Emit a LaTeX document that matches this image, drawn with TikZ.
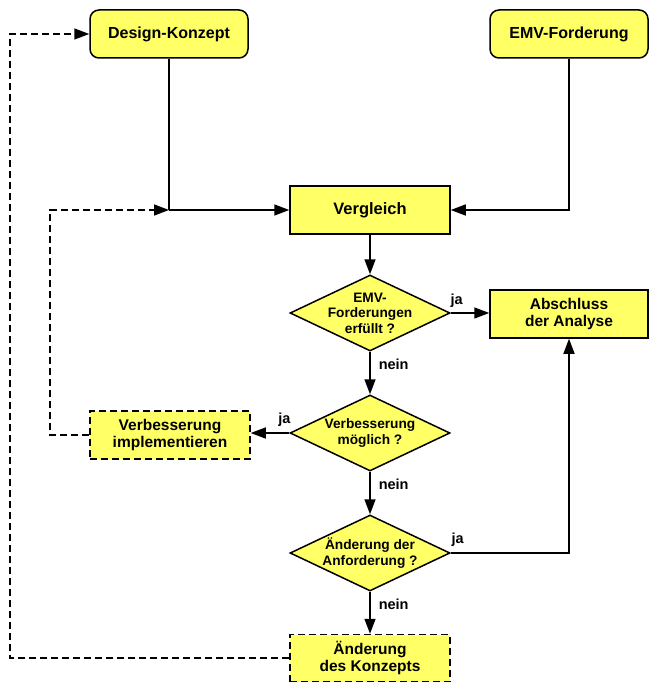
\documentclass[tikz,border=0pt]{standalone}
\usepackage{fontspec}
\setmainfont{Liberation Sans}
\usetikzlibrary{shapes.geometric,arrows.meta}
\definecolor{boxyellow}{HTML}{FFFF66}
\begin{document}
\begin{tikzpicture}[x=1pt,y=-1pt,
  every node/.style={font=\bfseries},
  base/.style={draw=black,line width=1.5pt,fill=boxyellow,align=center,inner sep=0pt},
  roundbox/.style={base,rounded corners=9pt,minimum width=158pt,minimum height=48pt,font=\bfseries\fontsize{16}{19}\selectfont},
  rectbox/.style={base,minimum width=160pt,minimum height=48pt,font=\bfseries\fontsize{15.5}{17}\selectfont},
  dashbox/.style={rectbox,dash pattern=on 7pt off 4pt},
  decision/.style={base,diamond,aspect=2.1,minimum width=160pt,minimum height=76pt},
  dtext/.style={align=center,inner sep=0pt,font=\bfseries\fontsize{13.7}{15.5}\selectfont},
  conn/.style={line width=1.5pt,-{Triangle[length=15pt,width=11pt]}},
  plain/.style={line width=1.5pt},
  dconn/.style={line width=1.5pt,dash pattern=on 7pt off 4pt,-{Triangle[length=15pt,width=11pt]}},
  lab/.style={font=\bfseries\fontsize{14.5}{16}\selectfont,inner sep=0pt}
]
\useasboundingbox (0,0) rectangle (659,692);

\node[roundbox] (design) at (169,34) {Design-Konzept};
\node[roundbox] (emv) at (569,34) {EMV-Forderung};
\node[rectbox,font=\bfseries\fontsize{16.5}{19}\selectfont] (vergl) at (370,210) {Vergleich};
\node[decision,label={[dtext]center:{EMV-\\Forderungen\\erfüllt ?}}] (d1) at (370,313) {};
\node[rectbox,minimum width=158pt] (abschl) at (569,314) {Abschluss\\der Analyse};
\node[decision,label={[dtext]center:{Verbesserung\\möglich ?}}] (d2) at (370,433) {};
\node[dashbox] (impl) at (170,435) {Verbesserung\\implementieren};
\node[decision,label={[dtext]center:{Änderung der\\Anforderung ?}}] (d3) at (370,553) {};
\node[dashbox,minimum height=47pt] (konz) at (370,658) {Änderung\\des Konzepts};

\coordinate (join) at (design.south |- vergl.west);
\coordinate (loopA) at (50,0);
\coordinate (loopB) at (10,0);
\coordinate (jaTurn) at (abschl.south |- d3.east);

\draw[plain] (design.south) -- (join);
\draw[conn] (join) -- (vergl.west);
\draw[conn] (emv.south) |- (vergl.east);
\draw[conn] (vergl.south) -- (d1.north);
\draw[conn] (d1.east) -- (abschl.west |- d1.east) node[lab,pos=0,anchor=south west,xshift=-1pt,yshift=5pt] {ja};
\draw[conn] (d1.south) -- (d2.north) node[lab,pos=0.3,anchor=west,xshift=8pt] {nein};
\draw[conn] (d2.west) -- (impl.east |- d2.west) node[lab,pos=0,anchor=south east,xshift=2pt,yshift=6pt] {ja};
\draw[conn] (d2.south) -- (d3.north) node[lab,pos=0.3,anchor=west,xshift=8pt] {nein};
\draw[conn] (d3.east) -- (jaTurn) node[lab,pos=0,anchor=south west,xshift=0pt,yshift=6pt] {ja} -- (abschl.south);
\draw[conn] (d3.south) -- (konz.north) node[lab,pos=0.3,anchor=west,xshift=8pt] {nein};
\draw[dconn] (impl.west) -| (loopA |- join) -- (join);
\draw[dconn] (konz.west) -| (loopB |- design.west) -- (design.west);
\end{tikzpicture}
\end{document}
